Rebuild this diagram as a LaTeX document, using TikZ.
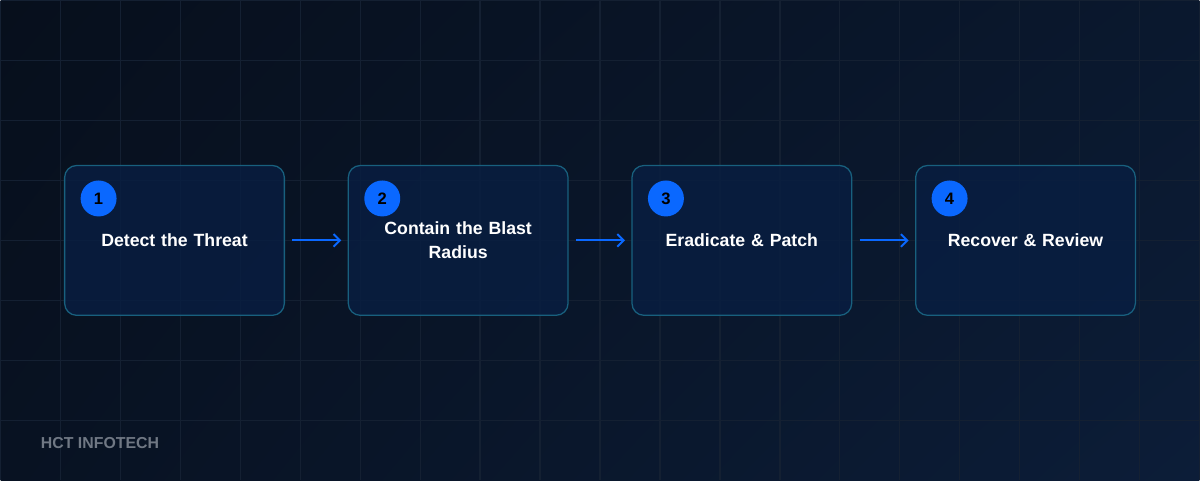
\documentclass[tikz,border=0pt]{standalone}
\usepackage{fontspec}
\setmainfont{Liberation Sans}
\usepackage{tikz}
\usetikzlibrary{
	positioning,
	calc,
	shadings,
	arrows.meta
}
\definecolor{NightTop}{RGB}{7,15,28}
\definecolor{NightTopR}{RGB}{10,24,46}
\definecolor{NightLow}{RGB}{8,18,34}
\definecolor{NightLowR}{RGB}{12,29,56}
\definecolor{GridLine}{RGB}{20,32,50}
\definecolor{PanelFill}{RGB}{8,30,66}
\definecolor{PanelEdge}{RGB}{24,96,126}
\definecolor{SignalBlue}{RGB}{10,104,255}
\definecolor{BrandGray}{RGB}{112,120,132}

\begin{document}
\begin{tikzpicture}[
	node distance=1.6cm,
	stagebox/.style={
		draw=PanelEdge,
		fill=PanelFill,
		fill opacity=0.8,
		text opacity=1,
		line width=0.9pt,
		outer sep=0pt,
		rounded corners=0.3cm,
		minimum width=5.5cm,
		minimum height=3.75cm,
		text width=4.5cm,
		inner xsep=0.5cm,
		align=center,
		text=white,
		font=\bfseries\fontsize{12.6}{17}\selectfont
	},
	numdot/.style={
		circle,
		fill=SignalBlue,
		minimum size=0.9cm,
		inner sep=0pt,
		text=black,
		font=\bfseries\fontsize{11.8}{13}\selectfont
	},
	flowarrow/.style={
		-{Straight Barb[length=4.5pt,width=9pt]},
		SignalBlue,
		line width=1.4pt,
		shorten <=0.2cm,
		shorten >=0.175cm
	}
	]
	
	% backdrop and grid
	\shade[
	upper left=NightTop,
	upper right=NightTopR,
	lower left=NightLow,
	lower right=NightLowR
	]
	(0,-12) rectangle (30,0);
	\draw[GridLine, line width=1pt, step=1.5cm] (0,-12) grid (30,0);
	\useasboundingbox (0,-12) rectangle (30,0);
	
	\node[
	stagebox
	]
	(detect)
	at (4.35,-6)
	{Detect the Threat};
	
	\node[
	stagebox,
	right=of detect
	]
	(contain)
	{Contain the Blast\\Radius};
	
	\node[
	stagebox,
	right=of contain
	]
	(eradicate)
	{Eradicate \& Patch};
	
	\node[
	stagebox,
	right=of eradicate
	]
	(recover)
	{Recover \& Review};
	
	% step numbers
	\node[numdot] (n1) at ($(detect.north west)+(0.85,-0.825)$) {1};
	\node[numdot] (n2) at ($(contain.north west)+(0.85,-0.825)$) {2};
	\node[numdot] (n3) at ($(eradicate.north west)+(0.85,-0.825)$) {3};
	\node[numdot] (n4) at ($(recover.north west)+(0.85,-0.825)$) {4};
	
	\draw[flowarrow] (detect) -- (contain);
	\draw[flowarrow] (contain) -- (eradicate);
	\draw[flowarrow] (eradicate) -- (recover);
	
	\node[
	anchor=west,
	inner sep=0pt,
	text=BrandGray,
	font=\bfseries\fontsize{11.3}{13}\selectfont
	]
	(brand)
	at (1,-11.075)
	{HCT INFOTECH};
	
\end{tikzpicture}
\end{document}
